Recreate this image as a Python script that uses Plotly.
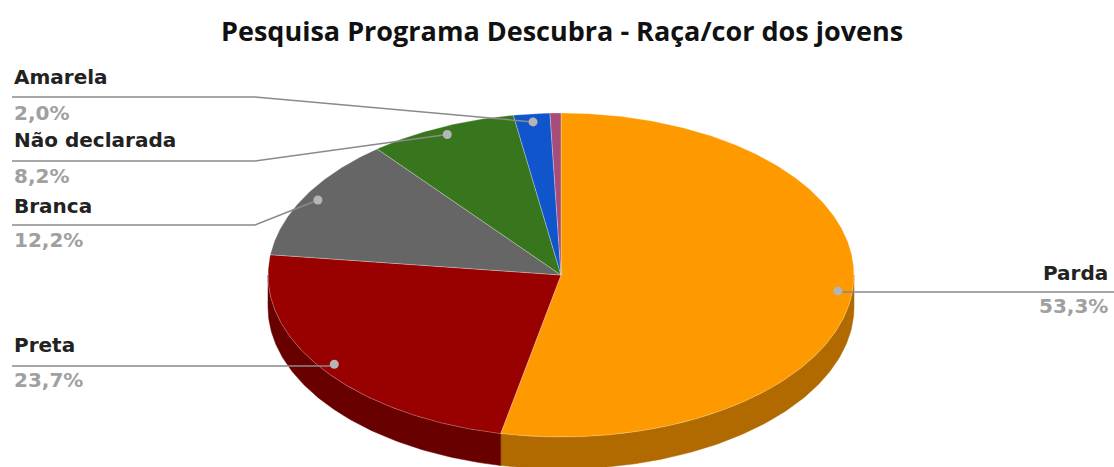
import numpy as np
import plotly.graph_objects as go

# ---- data ----
categories = ["Parda", "Preta", "Branca", "Não declarada", "Amarela", "Indígena"]
values = [53.3, 23.7, 12.2, 8.2, 2.0, 0.6]
show_label = [True, True, True, True, True, False]
title_text = "Pesquisa Programa Descubra - Raça/cor dos jovens"

# ---- style ----
colors = ["#FF9900", "#990000", "#666666", "#38761D", "#1155CC", "#A64D79"]
side_colors = ["#B06A00", "#680000", "#444444", "#26501A", "#0C3B8F", "#743654"]

W, H = 1114, 467
CX, CY, RX, RY, DEPTH = 561, 275, 293, 162, 32
DOT_R = 0.95

# label layout: (text x, name y, line y, elbow x, side)
label_layout = {
    "Parda": dict(side="right", tx=1110, ny=273, ly=292, py=306),
    "Preta": dict(side="left", tx=12, ny=345, ly=366, py=380, elbow=None),
    "Branca": dict(side="left", tx=12, ny=206, ly=225, py=240, elbow=255),
    "Não declarada": dict(side="left", tx=12, ny=140, ly=161, py=176, elbow=255),
    "Amarela": dict(side="left", tx=12, ny=77, ly=97, py=113, elbow=255),
}


def pt(theta_deg, r=1.0, dy=0.0):
    t = np.radians(theta_deg)
    return CX + RX * r * np.sin(t), CY - RY * r * np.cos(t) + dy


total = sum(values)
angles = np.concatenate([[0], np.cumsum(values) / total * 360.0])

fig = go.Figure()

# side faces (front half: 90..270 deg clockwise from top)
for i, v in enumerate(values):
    a, b = angles[i], angles[i + 1]
    lo, hi = max(a, 90), min(b, 270)
    if lo < hi:
        th = np.linspace(lo, hi, 120)
        xt, yt = pt(th)
        xb, yb = pt(th[::-1], dy=DEPTH)
        fig.add_trace(go.Scatter(
            x=np.concatenate([xt, xb, xt[:1]]), y=np.concatenate([yt, yb, yt[:1]]),
            fill="toself", fillcolor=side_colors[i], mode="lines",
            line=dict(color=side_colors[i], width=0.5), hoverinfo="skip", showlegend=False))

# top faces
for i, v in enumerate(values):
    a, b = angles[i], angles[i + 1]
    th = np.linspace(a, b, max(int((b - a) * 2), 4))
    xt, yt = pt(th)
    fig.add_trace(go.Scatter(
        x=np.concatenate([[CX], xt, [CX]]), y=np.concatenate([[CY], yt, [CY]]),
        fill="toself", fillcolor=colors[i], mode="lines",
        line=dict(color="rgba(255,255,255,0.35)", width=0.8),
        name=categories[i], text=f"{categories[i]}: {v:.1f}%".replace(".", ","),
        hoverinfo="text", showlegend=False))

annotations = [dict(x=562, y=30, xref="x", yref="y", text="<b>" + title_text + "</b>",
                    showarrow=False, xanchor="center", yanchor="middle",
                    font=dict(family="Open Sans", size=27, color="#111111"))]

# leader lines, dots and labels
for i, cat in enumerate(categories):
    if not show_label[i]:
        continue
    L = label_layout[cat]
    mid = (angles[i] + angles[i + 1]) / 2
    dx, dy = pt(mid, DOT_R)
    if L["side"] == "right":
        lx = [dx, W]
        ly = [L["ly"], L["ly"]]
        xanchor = "right"
    else:
        if L.get("elbow") is None:
            lx = [L["tx"], dx]
            ly = [L["ly"], L["ly"]]
        else:
            lx = [L["tx"], L["elbow"], dx]
            ly = [L["ly"], L["ly"], dy]
        xanchor = "left"
    fig.add_trace(go.Scatter(x=lx, y=ly, mode="lines", line=dict(color="#8a8a8a", width=1.5),
                             hoverinfo="skip", showlegend=False))
    fig.add_trace(go.Scatter(x=[dx], y=[dy], mode="markers",
                             marker=dict(color="#b5b5b5", size=9), hoverinfo="skip", showlegend=False))
    pct = f"{values[i]:.1f}%".replace(".", ",")
    annotations.append(dict(x=L["tx"], y=L["ny"], xref="x", yref="y", text="<b>" + cat + "</b>",
                            showarrow=False, xanchor=xanchor, yanchor="middle",
                            font=dict(family="DejaVu Sans", size=20, color="#222222")))
    annotations.append(dict(x=L["tx"], y=L["py"], xref="x", yref="y", text="<b>" + pct + "</b>",
                            showarrow=False, xanchor=xanchor, yanchor="middle",
                            font=dict(family="DejaVu Sans", size=20, color="#a0a0a0")))

fig.update_layout(
    width=W, height=H, autosize=False,
    margin=dict(l=0, r=0, t=0, b=0),
    paper_bgcolor="white", plot_bgcolor="white",
    xaxis=dict(range=[0, W], visible=False, fixedrange=True),
    yaxis=dict(range=[H, 0], visible=False, fixedrange=True),
    annotations=annotations,
)

fig.write_html("out.html")
